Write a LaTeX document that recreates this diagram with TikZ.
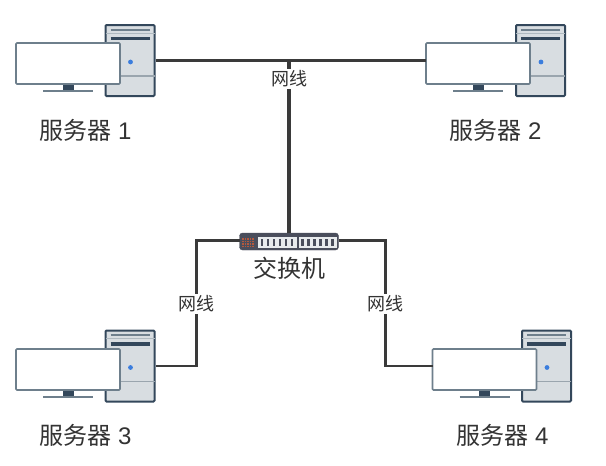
\documentclass[tikz,border=0pt]{standalone}
\usepackage{fontspec}
\setmainfont{Liberation Sans}
\newfontfamily\cjk{Noto Sans CJK SC}
\usetikzlibrary{calc}
\definecolor{edge}{HTML}{33475B}
\definecolor{frameb}{HTML}{6E7F8C}
\definecolor{towerfill}{HTML}{D8DDE1}
\definecolor{wire}{HTML}{3A3A3A}
\definecolor{txt}{HTML}{333333}
\definecolor{switchc}{HTML}{4A4E5C}
\definecolor{redgrid}{HTML}{B5583C}
\definecolor{ledc}{HTML}{3B7DDD}
\tikzset{
  tower/.style={draw=edge,fill=towerfill,line width=2pt,rounded corners=1pt,minimum width=49pt,minimum height=71pt,inner sep=0pt,outer sep=1pt},
  monitor/.style={draw=frameb,fill=white,line width=1.7pt,rounded corners=1pt,minimum width=104pt,minimum height=41pt,inner sep=0pt,outer sep=0pt},
  wireline/.style={draw=wire,line width=2.5pt},
  trunk/.style={draw=wire,line width=3.2pt},
  servername/.style={font=\fontsize{24}{24}\selectfont,text=txt,inner sep=0pt},
  wirelabel/.style={font=\cjk\fontsize{18}{18}\selectfont,text=txt,fill=white,inner sep=1.5pt},
  switchbody/.style={fill=switchc,draw=switchc,rounded corners=3pt,minimum width=99pt,minimum height=17pt,inner sep=0pt,outer sep=0pt},
}
\newcommand{\serverunit}[5]{% name, tower x, tower y, monitor x, monitor y
  \node[tower] (#1t) at (#2,#3) {};
  \draw[frameb!55!white,line width=1pt] ($(#1t.north west)+(1,9)$) -- ($(#1t.north east)+(-1,9)$);
  \draw[frameb,line width=2pt] ($(#1t.north west)+(6,5.5)$) -- ($(#1t.north east)+(-6,5.5)$);
  \draw[edge,line width=3.5pt] ($(#1t.north west)+(6,14.5)$) -- ($(#1t.north east)+(-6,14.5)$);
  \draw[frameb!70!white,line width=1.2pt] ($(#1t.south west)+(1,-21)$) -- ($(#1t.south east)+(-1,-21)$);
  \fill[ledc] ($(#1t.north east)+(-25,38)$) circle (2.4pt);
  \node[monitor] (#1m) at (#4,#5) {};
  \fill[edge] ($(#1m.south)+(-5.5,0.8)$) rectangle ($(#1m.south)+(5.5,6.5)$);
  \draw[frameb,line width=1.7pt] ($(#1m.south)+(-25,7)$) -- ($(#1m.south)+(25,7)$);
}
\begin{document}
\begin{tikzpicture}[x=1pt,y=-1pt]
\useasboundingbox (0,0) rectangle (606,466);
\fill[white] (0,0) rectangle (606,466);
\serverunit{sa}{130}{60.5}{68}{63.5}
\serverunit{sb}{540.5}{60.5}{478}{63.5}
\serverunit{sc}{130}{366}{68}{369.5}
\serverunit{sd}{546.5}{366}{484.5}{369.5}
\node[switchbody] (sw) at (289,241.5) {};
\fill[redgrid] (242,238) rectangle (255,247);
\foreach \xx in {244,246.5,...,254}{\draw[switchc,line width=0.6pt] (\xx,238) -- (\xx,247);}
\foreach \yy in {240.2,242.5,244.8}{\draw[switchc,line width=0.6pt] (242,\yy) -- (255,\yy);}
\fill[towerfill!60!white] (258,237) rectangle (296.5,247.5);
\fill[towerfill!60!white] (298.5,237) rectangle (337,247.5);
\foreach \xx in {260.5,266.5,...,291,301,307,...,332}{\fill[switchc] (\xx,239) rectangle +(2.8,6.5);}
\node[servername] (na) at (85.5,130) {{\cjk 服务器} 1};
\node[servername] (nb) at (495.5,130) {{\cjk 服务器} 2};
\node[servername] (nc) at (85.5,435) {{\cjk 服务器} 3};
\node[servername] (nd) at (502.5,435) {{\cjk 服务器} 4};
\node[servername,font=\cjk\fontsize{24}{24}\selectfont] (nsw) at (289,268) {交换机};
\coordinate (hub) at (289,60.5);
\draw[wireline] (sat.east) -- (sbm.west |- sat.east);
\draw[trunk] (sw.north) -- (hub);
\coordinate (lc) at (196.5,304);
\coordinate (ld) at (385.5,304);
\draw[wireline] (sw.west |- 0,240.5) -- (lc |- 0,240.5) -- (lc |- sct.east) -- (sct.east);
\draw[wireline] (sw.east |- 0,240.5) -- (ld |- 0,240.5) -- (ld |- sdt.east) -- (sdm.west |- sdt.east);
\node[wirelabel] (wa) at (289,79) {网线};
\node[wirelabel] (wc) at (lc) {网线};
\node[wirelabel] (wd) at (ld) {网线};
\end{tikzpicture}
\end{document}
